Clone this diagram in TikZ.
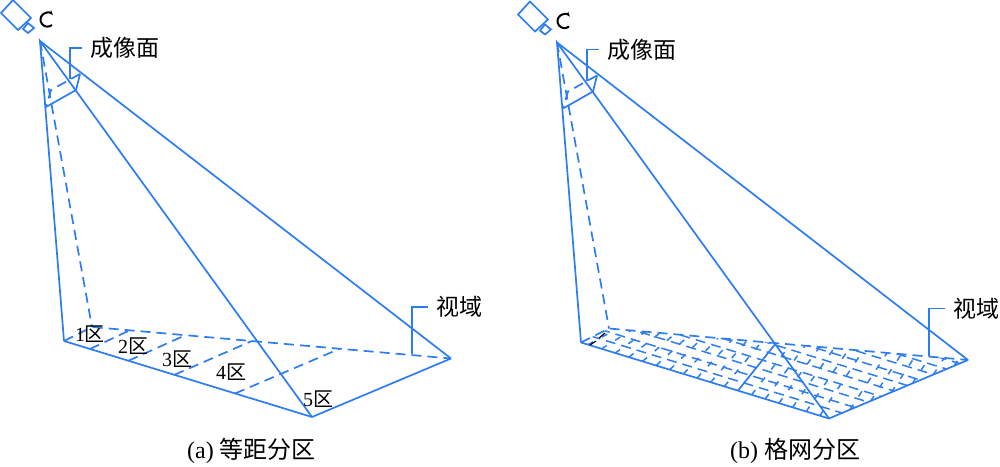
\documentclass[tikz,border=0pt]{standalone}
\usepackage{fontspec}
\setmainfont{Liberation Serif}
\newfontfamily\cjk{Noto Sans CJK SC}
\usetikzlibrary{calc, arrows.meta}
\definecolor{rayblue}{RGB}{45,125,240}
\tikzset{
  ray/.style={draw=rayblue, line width=0.85pt},
  hidden/.style={ray, dash pattern=on 5pt off 3pt},
  gridline/.style={draw=rayblue, line width=0.75pt, dash pattern=on 5pt off 3pt},
  crossline/.style={draw=rayblue, line width=0.75pt, dash pattern=on 3pt off 5pt},
  bigtext/.style={font=\cjk\fontsize{11.5}{12}\selectfont, inner sep=4pt},
  zonetext/.style={font=\fontsize{10}{11}\selectfont, inner sep=0pt},
  captext/.style={font=\fontsize{12}{13}\selectfont, inner sep=0pt}
}
\begin{document}
\begin{tikzpicture}[x=0.5pt, y=-0.5pt]
  \useasboundingbox (0, 0) rectangle (1000, 466);

  \foreach \pn/\dx/\dy in {a/0/0, b/517/1.5} {
    \begin{scope}[shift={(\dx, \dy)}]
      % Camera
      \draw [ray] (13, 0) -- (1, 13) -- (18, 30) -- (31, 18) -- cycle;
      \draw [ray] (23, 29) -- (28, 23) -- (34, 28) -- (28, 33) -- cycle;
      \draw [black, line width=1pt, -{Stealth[length=2.5pt]}] (52, 25) arc (50:320:7);

      % Corners
      \coordinate (\pn-apex) at (40, 41);
      \coordinate (\pn-near) at (64, 341);
      \coordinate (\pn-low) at (312, 417);
      \coordinate (\pn-far) at (451, 358.5);
      \coordinate (\pn-back) at (92, 327);
      \coordinate (\pn-pa) at (46, 107);
      \coordinate (\pn-pb) at (76, 90);
      \coordinate (\pn-pc) at (80, 74);
      \coordinate (\pn-pd) at (51, 90);
      \coordinate (\pn-planeend) at (70, 79);
      \coordinate (\pn-viewend) at (412, 354);

      % Labels
      \node [bigtext, anchor=west] (\pn-plane) at (82, 48) {成像面};
      \node [bigtext, anchor=west] (\pn-view) at (428, 307) {视域};
    \end{scope}

    % Solid rays
    \draw [ray] (\pn-near) -- (\pn-apex) -- (\pn-low);
    \draw [ray] (\pn-apex) -- (\pn-far);
    \draw [ray] (\pn-near) -- (\pn-low) -- (\pn-far);
    \draw [ray] (\pn-pa) -- (\pn-pb) -- (\pn-pc);

    % Hidden edges
    \draw [hidden] (\pn-apex) -- (\pn-back);
    \draw [hidden] (\pn-pc) -- (\pn-pd) -- (\pn-pa);
    \draw [hidden] (\pn-near) -- (\pn-back) -- (\pn-far);

    % Leaders
    \draw [ray] (\pn-plane.west) -| (\pn-planeend);
    \draw [ray] (\pn-view.west) -| (\pn-viewend);
  }

  % Zones
  \foreach \t in {0.105, 0.26, 0.445, 0.69}
    \draw [hidden] ($(a-near)!\t!(a-low)$) -- ($(a-back)!\t!(a-far)$);
  \node [zonetext] (zone1) at (90, 334) {1\cjk 区};
  \node [zonetext] (zone2) at (133, 346) {2\cjk 区};
  \node [zonetext] (zone3) at (177, 359) {3\cjk 区};
  \node [zonetext] (zone4) at (231, 372) {4\cjk 区};
  \node [zonetext] (zone5) at (318, 399) {5\cjk 区};

  % Grid
  \begin{scope}
    \clip (b-near) -- (b-low) -- (b-far) -- (b-back) -- cycle;
    \foreach \k in {1, ..., 11}
      \draw [gridline, dash phase=\k*3pt] ($(b-near)+(0, -\k*9.5)$) -- ++(420, 128.7);
    \foreach \j [evaluate=\j as \tb using 0.633+\j*0.055, evaluate=\j as \tu using 0.735*(0.633+\j*0.055)] in {-11, -10, ..., -1, 1, 2, ..., 6}
      \draw [crossline] ($(b-near)!\tb!(b-low)$) -- ($(b-back)!\tu!(b-far)$);
    \foreach \s [evaluate=\s as \tu using 0.735+0.265*\s] in {0.15, 0.3, 0.45, 0.6, 0.75, 0.9}
      \draw [crossline] ($(b-low)!\s!(b-far)$) -- ($(b-back)!\tu!(b-far)$);
  \end{scope}
  \draw [ray] ($(b-near)!0.633!(b-low)$) -- ($(b-back)!0.465!(b-far)$);
  \draw [black, line width=0.6pt] (590, 345) -- (596, 341);
  \draw [black, line width=0.6pt] (599, 338) -- (605, 333);

  % Captions
  \node [captext] (capa) at (251.5, 451) {(a) {\cjk 等距分区}};
  \node [captext] (capb) at (795, 451) {(b) {\cjk 格网分区}};
\end{tikzpicture}
\end{document}
